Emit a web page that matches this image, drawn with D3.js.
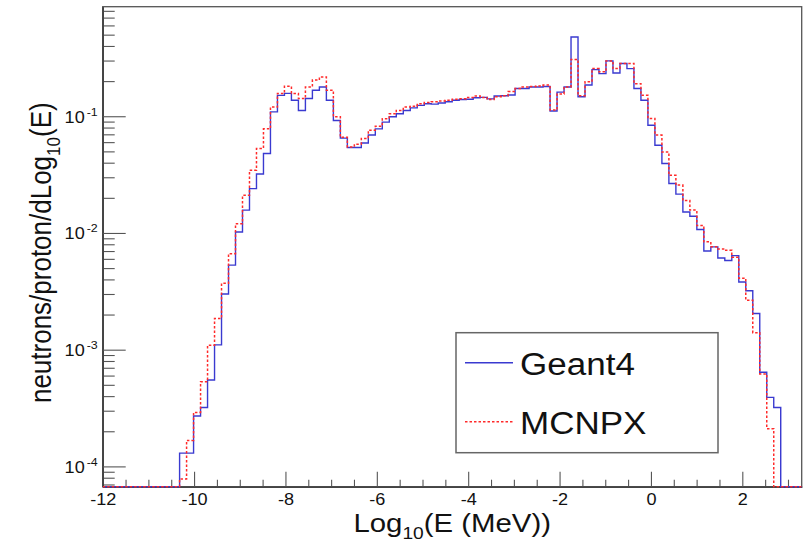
<!DOCTYPE html>
<html>
<head>
<meta charset="utf-8">
<script src="https://cdn.jsdelivr.net/npm/d3@7"></script>
<style>
  html, body { margin: 0; padding: 0; background: #fff; }
  svg { display: block; }
  text { font-family: "Liberation Sans", Arial, Helvetica, sans-serif; fill: #111; }
</style>
</head>
<body>
<svg id="chart" width="804" height="547"></svg>
<script>
// ---------- data ----------
const xMin = -12, xMax = 3.3, nBins = 100;   // histogram binning in log10(E/MeV)
const seriesNames = ["Geant4", "MCNPX"];
const geant4 = [
  0, 0, 0, 0, 0, 0, 0, 0, 0, 0,
  0, 1.3e-4, 1.3e-4, 2.7e-4, 3.2e-4, 5.5e-4, 1.1e-3, 3.0e-3, 5.3e-3, 1.02e-2,
  1.57e-2, 2.4e-2, 3.2e-2, 4.8e-2, 0.109, 0.151, 0.157, 0.137, 0.112, 0.142,
  0.167, 0.178, 0.137, 0.092, 0.065, 0.054, 0.054, 0.059, 0.069, 0.078,
  0.089, 0.099, 0.105, 0.112, 0.118, 0.124, 0.128, 0.127, 0.130, 0.133,
  0.137, 0.139, 0.140, 0.144, 0.145, 0.141, 0.149, 0.150, 0.152, 0.173,
  0.173, 0.178, 0.178, 0.180, 0.111, 0.161, 0.178, 0.478, 0.147, 0.185,
  0.251, 0.232, 0.298, 0.235, 0.283, 0.256, 0.173, 0.137, 0.0838, 0.0565,
  0.0394, 0.0265, 0.0215, 0.0151, 0.0139, 0.0107, 0.0070, 0.0076, 0.0061, 0.0058,
  0.0064, 0.0038, 0.0032, 0.00204, 0.00064, 0.00039, 0.00032, 0, 0, 0
];
const mcnpx = [
  0, 0, 0, 0, 0, 0, 0, 0, 0, 0,
  0, 7.8e-5, 1.67e-4, 2.9e-4, 5.3e-4, 1.09e-3, 1.85e-3, 3.7e-3, 6.65e-3, 0.012,
  0.021, 0.0345, 0.053, 0.078, 0.120, 0.157, 0.181, 0.157, 0.142, 0.178,
  0.204, 0.217, 0.167, 0.099, 0.066, 0.0546, 0.0575, 0.0644, 0.076, 0.082,
  0.095, 0.105, 0.112, 0.120, 0.122, 0.128, 0.131, 0.133, 0.135, 0.137,
  0.140, 0.141, 0.145, 0.149, 0.145, 0.139, 0.147, 0.150, 0.163, 0.173,
  0.178, 0.180, 0.182, 0.185, 0.113, 0.155, 0.178, 0.306, 0.150, 0.197,
  0.256, 0.240, 0.298, 0.256, 0.283, 0.283, 0.190, 0.151, 0.0955, 0.069,
  0.0494, 0.0312, 0.0257, 0.019, 0.0157, 0.0116, 0.0084, 0.0076, 0.0073, 0.0071,
  0.0062, 0.0041, 0.00265, 0.0014, 0.00062, 0.00021, 0, 0, 0, 0
];
const xMajorTicks = [-12, -10, -8, -6, -4, -2, 0, 2];
const xMinorStep = 0.5;
const yMajorTicks = [1e-4, 1e-3, 1e-2, 1e-1];
const yTickExponents = ["-4", "-3", "-2", "-1"];
const xTitle = ["Log", "10", "(E (MeV))"];
const yTitle = ["neutrons/proton/dLog", "10", "(E)"];

// ---------- layout ----------
const svg = d3.select("#chart");
const L = 102.7, R = 801.7, T = 6.7, B = 486.7;
const SX = 1.13; // horizontal stretch of glyphs in the reference

const x = d3.scaleLinear().domain([xMin, xMax]).range([L, R]);
const y = d3.scaleLog().domain([6.7e-5, 0.868]).range([B, T]);

svg.append("rect").attr("width", 804).attr("height", 547).attr("fill", "#fff");

// frame
svg.append("rect").attr("x", L).attr("y", T).attr("width", R - L).attr("height", B - T)
  .attr("fill", "none").attr("stroke", "#555").attr("stroke-width", 1.3);

// ---------- axes ----------
const binW = (xMax - xMin) / nBins;
const xMinor = d3.range(xMin + xMinorStep, xMax, xMinorStep).filter(v => !xMajorTicks.some(m => Math.abs(m - v) < 1e-6));

const gxMinor = svg.append("g").attr("transform", `translate(0,${B})`)
  .call(d3.axisBottom(x).tickValues(xMinor).tickSizeInner(-7).tickSizeOuter(0).tickFormat(""));
const gx = svg.append("g").attr("transform", `translate(0,${B})`)
  .call(d3.axisBottom(x).tickValues(xMajorTicks).tickSizeInner(-15).tickSizeOuter(0).tickFormat(d3.format("d")));
[gxMinor, gx].forEach(g => {
  g.select(".domain").attr("stroke", "#444").attr("stroke-width", 1.4);
  g.selectAll(".tick line").attr("stroke", "#555").attr("stroke-width", 1.1);
});
gx.selectAll(".tick text")
  .attr("y", 18).attr("dy", null)
  .attr("transform", `scale(${SX},1)`)
  .style("font-size", "16px").style("fill", "#111")
  .text(d => d < 0 ? "-" + Math.abs(d) : d);

const yMinor = [];
for (let e = -5; e <= -1; e++) for (let m = 2; m <= 9; m++) {
  const v = m * Math.pow(10, e);
  if (v >= y.domain()[0] && v <= y.domain()[1]) yMinor.push(v);
}
const gyMinor = svg.append("g").attr("transform", `translate(${L},0)`)
  .call(d3.axisLeft(y).tickValues(yMinor).tickSizeInner(-12).tickSizeOuter(0).tickFormat(""));
const gy = svg.append("g").attr("transform", `translate(${L},0)`)
  .call(d3.axisLeft(y).tickValues(yMajorTicks).tickSizeInner(-23).tickSizeOuter(0).tickFormat(""));
[gyMinor, gy].forEach(g => {
  g.select(".domain").attr("stroke", "#444").attr("stroke-width", 1.6);
  g.selectAll(".tick line").attr("stroke", "#555").attr("stroke-width", 1.1);
});
gy.selectAll(".tick").each(function(d, i) {
  const t = d3.select(this);
  t.append("text").attr("transform", `translate(-18,6) scale(${SX},1)`)
    .attr("text-anchor", "end").style("font-size", "16px").text("10");
  t.append("text").attr("transform", `translate(-16,-1) scale(${SX},1)`)
    .attr("text-anchor", "start").style("font-size", "11px").text(yTickExponents[i]);
});

// ---------- histograms ----------
function histPoints(vals) {
  const pts = vals.map((v, i) => [xMin + i * binW, v]);
  pts.push([xMin + nBins * binW, vals[vals.length - 1]]);
  return pts;
}
const line = d3.line()
  .x(d => x(d[0]))
  .y(d => d[1] > 0 ? Math.min(B, y(d[1])) : B)
  .curve(d3.curveStepAfter);

svg.append("defs").append("clipPath").attr("id", "clip")
  .append("rect").attr("x", L).attr("y", T).attr("width", R - L).attr("height", B - T + 1);

const plot = svg.append("g").attr("clip-path", "url(#clip)");
plot.append("path").datum(histPoints(geant4)).attr("d", line)
  .attr("fill", "none").attr("stroke", "#3a3ad0").attr("stroke-width", 1.4);
plot.append("path").datum(histPoints(mcnpx)).attr("d", line)
  .attr("fill", "none").attr("stroke", "#ff2a2a").attr("stroke-width", 1.5)
  .attr("stroke-dasharray", "2.5,2");

// ---------- titles ----------
const xt = svg.append("text").attr("transform", `translate(${(L + R) / 2},532) scale(${SX},1)`)
  .attr("text-anchor", "middle").style("font-size", "26px");
xt.append("tspan").text(xTitle[0]);
xt.append("tspan").attr("dy", 7).style("font-size", "17px").text(xTitle[1]);
xt.append("tspan").attr("dy", -7).text(xTitle[2]);

const yt = svg.append("text").attr("transform", `translate(51,${(T + B) / 2 + 6}) scale(${SX},1) rotate(-90)`)
  .attr("text-anchor", "middle").style("font-size", "26px");
yt.append("tspan").text(yTitle[0]);
yt.append("tspan").attr("dy", 8).style("font-size", "17px").text(yTitle[1]);
yt.append("tspan").attr("dy", -8).text(yTitle[2]);

// ---------- legend ----------
const lg = svg.append("g");
lg.append("rect").attr("x", 456).attr("y", 332.7).attr("width", 262).attr("height", 120)
  .attr("fill", "#fff").attr("stroke", "#666").attr("stroke-width", 1.5);
const legendRows = [
  { name: seriesNames[0], y: 362.7, color: "#3a3ad0", dash: null, w: 1.4 },
  { name: seriesNames[1], y: 421.7, color: "#ff2a2a", dash: "2.5,2", w: 1.5 }
];
legendRows.forEach(r => {
  lg.append("line").attr("x1", 465).attr("x2", 513).attr("y1", r.y).attr("y2", r.y)
    .attr("stroke", r.color).attr("stroke-width", r.w).attr("stroke-dasharray", r.dash);
  lg.append("text").attr("transform", `translate(520,${r.y + 12}) scale(${SX},1)`)
    .style("font-size", "31px").text(r.name);
});
</script>
</body>
</html>
